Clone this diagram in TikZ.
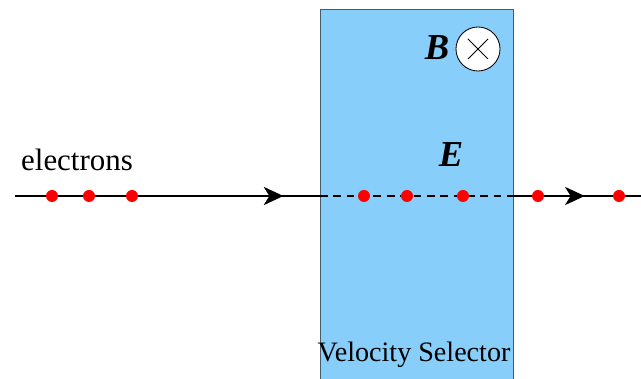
\documentclass[tikz,border=0pt]{standalone}
\usepackage{fontspec}
\setmainfont{Liberation Serif}
\usepackage{xcolor}
\usetikzlibrary{arrows.meta,decorations.markings,calc}
\definecolor{selblue}{RGB}{135,206,250}
\definecolor{seledge}{RGB}{70,90,110}

\begin{document}
\begin{tikzpicture}[
    x=0.025cm, y=-0.025cm,
    every node/.style = {inner sep=0pt, outer sep=0pt},
    selector/.style = {draw=seledge, line width=0.6pt, fill=selblue, rectangle,
                       minimum width=4.825cm, minimum height=9.4cm},
    electron/.style = {circle, fill=red, minimum size=0.3cm},
    beam/.style     = {line width=0.9pt},
    inside/.style   = {beam, dash pattern=on 5.5pt off 4pt},
    arrowat/.style  = {decoration={markings,
                       mark=at position #1 with {\arrow{Stealth[length=14pt,width=13pt,inset=4pt]}}},
                       postaction={decorate}},
    field/.style    = {font=\fontsize{26}{30}\selectfont\bfseries\itshape},
    lbl/.style      = {font=\fontsize{20}{24}\selectfont},
    bcircle/.style  = {circle, draw, fill=white, line width=0.6pt, minimum size=1.1cm},
]
\clip (0,0) rectangle (641,379);
\useasboundingbox (0,0) rectangle (641,379);

% ---------------- Velocity selector ----------------
\node[selector] (sel) at (416.5,197) {};
\node[lbl, anchor=center] (sellbl) at (414,355) {Velocity Selector};

% ---------------- Fields ----------------
\node[field] (B) at (437,48) {B};
\node[bcircle] (bdir) at (478,49) {};
\draw[line width=0.6pt] ($(bdir)+(-10,-10)$) -- ($(bdir)+(10,10)$);
\draw[line width=0.6pt] ($(bdir)+(-10,10)$) -- ($(bdir)+(10,-10)$);
\node[field] (E) at (451,155) {E};

% ---------------- Beam ----------------
\coordinate (src) at (15,196);
\coordinate (inL) at (320,196);
\coordinate (inR) at (513,196);
\coordinate (dst) at (641,196);

\draw[beam, arrowat=0.88] (src) -- (inL);
\draw[inside] (inL) -- (inR);
\draw[beam, arrowat=0.56] (inR) -- (dst);

\node[lbl, font=\fontsize{22}{26}\selectfont] (elbl) at (77,160) {electrons};

% ---------------- Electrons ----------------
\foreach \x [count=\i] in {52,89,132,364,407,463,538,619}
    \node[electron] (e\i) at (\x,196) {};

\end{tikzpicture}
\end{document}
